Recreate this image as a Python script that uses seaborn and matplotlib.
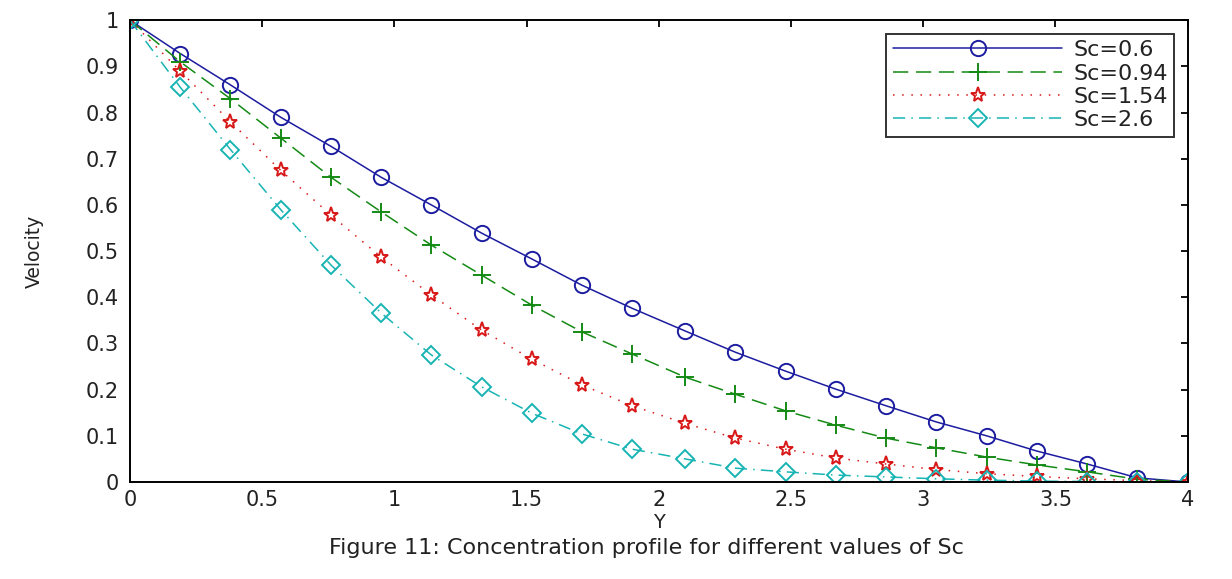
import matplotlib
matplotlib.use('Agg')
import matplotlib.pyplot as plt
import seaborn as sns
import pandas as pd

# 데이터
y_pos = [0.0, 0.19, 0.38, 0.57, 0.76, 0.95, 1.14, 1.33, 1.52, 1.71, 1.90,
         2.10, 2.29, 2.48, 2.67, 2.86, 3.05, 3.24, 3.43, 3.62, 3.81, 4.0]
sc_060 = [1.0, 0.928, 0.86, 0.79, 0.727, 0.66, 0.60, 0.539, 0.483, 0.426, 0.376,
          0.327, 0.281, 0.240, 0.201, 0.165, 0.130, 0.100, 0.067, 0.039, 0.009, 0.0]
sc_094 = [1.0, 0.91, 0.83, 0.745, 0.66, 0.585, 0.513, 0.448, 0.383, 0.325, 0.277,
          0.227, 0.190, 0.154, 0.123, 0.095, 0.074, 0.054, 0.037, 0.022, 0.006, 0.0]
sc_154 = [1.0, 0.89, 0.78, 0.675, 0.578, 0.487, 0.405, 0.329, 0.266, 0.210, 0.165,
          0.127, 0.095, 0.071, 0.052, 0.039, 0.027, 0.018, 0.012, 0.007, 0.003, 0.0]
sc_260 = [1.0, 0.855, 0.72, 0.59, 0.47, 0.366, 0.275, 0.206, 0.149, 0.104, 0.071,
          0.050, 0.030, 0.022, 0.015, 0.011, 0.007, 0.004, 0.002, 0.001, 0.0, 0.0]

labels = ['Sc=0.6', 'Sc=0.94', 'Sc=1.54', 'Sc=2.6']
series = [sc_060, sc_094, sc_154, sc_260]
colors = ['#1c1ca0', '#148a14', '#d81818', '#18b4b4']
markers = ['o', '+', '*', 'D']
dashes = [None, (10, 5), (1, 5), (8, 4, 1, 4)]
msizes = [11, 13, 11, 9]

sns.set_style("white")
plt.rcParams['font.family'] = ['DejaVu Sans']
plt.rcParams['xtick.direction'] = 'in'
plt.rcParams['ytick.direction'] = 'in'

fig = plt.figure(figsize=(12.32, 5.79), dpi=100)
ax = fig.add_axes([0.1055, 0.1675, 0.8585, 0.7975])

for lab, vals, c, m, d, ms in zip(labels, series, colors, markers, dashes, msizes):
    df = pd.DataFrame({'Y': y_pos, 'v': vals})
    kw = {} if d is None else {'dashes': d}
    sns.lineplot(data=df, x='Y', y='v', ax=ax, color=c, linewidth=1.1,
                 marker=m, markersize=ms, markerfacecolor='none', markeredgecolor=c,
                 markeredgewidth=1.4, label=lab, **kw)

ax.set_xlim(0, 4)
ax.set_ylim(0, 1)
ax.set_xticks([0, 0.5, 1, 1.5, 2, 2.5, 3, 3.5, 4])
ax.set_xticklabels(['0', '0.5', '1', '1.5', '2', '2.5', '3', '3.5', '4'])
ax.set_yticks([0, 0.1, 0.2, 0.3, 0.4, 0.5, 0.6, 0.7, 0.8, 0.9, 1])
ax.set_yticklabels(['0', '0.1', '0.2', '0.3', '0.4', '0.5', '0.6', '0.7', '0.8', '0.9', '1'])
ax.tick_params(axis='both', labelsize=15, length=5, width=1.3, top=True, right=True,
               colors='black', labelcolor='#222222')
ax.tick_params(axis='y', pad=8)
ax.tick_params(axis='x', pad=6)
for s in ax.spines.values():
    s.set_color('black')
    s.set_linewidth(1.4)

ax.set_xlabel('Y', fontsize=14, labelpad=2, color='#222222')
ax.set_ylabel('Velocity', fontsize=13.5, labelpad=30, color='#222222')

leg = ax.legend(loc='upper right', fontsize=16, frameon=True, fancybox=False,
                edgecolor='black', borderpad=0.3, handlelength=7.6,
                handletextpad=0.5, labelspacing=0.15, borderaxespad=0.6)
leg.get_frame().set_linewidth(1.4)
for t in leg.get_texts():
    t.set_color('#222222')

fig.text(0.525, 0.0535, 'Figure 11: Concentration profile for different values of Sc',
         ha='center', va='center', fontsize=16, color='#222222')

plt.savefig('out.png', dpi=100)
